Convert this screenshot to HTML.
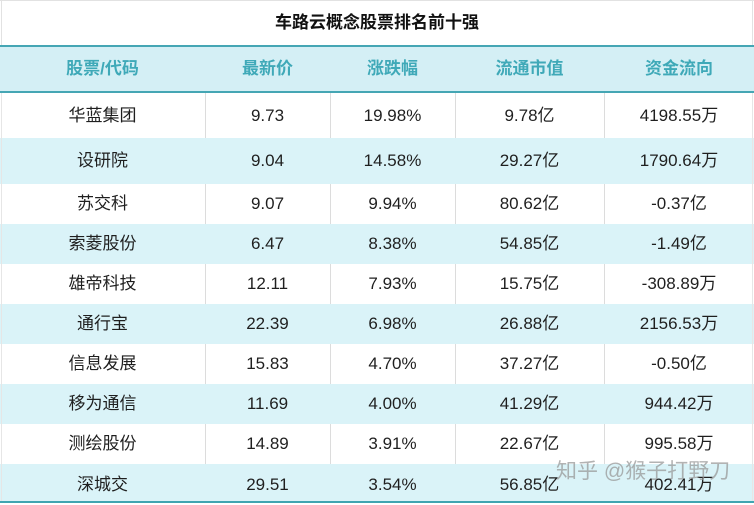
<!DOCTYPE html>
<html><head><meta charset="utf-8">
<style>
*{margin:0;padding:0;box-sizing:border-box}
html,body{width:754px;height:505px;background:#fff;overflow:hidden}
body{position:relative;font-family:"Liberation Sans","Noto Sans CJK SC",sans-serif;color:#1f1f1f}
.abs{position:absolute}
.title{left:0;top:13px;width:754px;height:20px;line-height:20px;text-align:center;font-weight:bold;font-size:17px;color:#111}
.hdr{left:0;top:45px;width:754px;height:48px;background:#d4eff5;border-top:2px solid #45a6b4;border-bottom:2px solid #45a6b4}
.row{left:0;width:754px}
.blue{background:#daf3f8}
.cell{position:absolute;top:0;height:100%;display:flex;align-items:center;justify-content:center;font-size:17px;line-height:20px}
.cell span{display:block;line-height:20px;height:20px;white-space:nowrap}
.h{font-weight:bold;color:#3fa9b8}
.vl{position:absolute;width:1px;background:#dcdcdc}
.wm{left:556px;top:461px;font-size:21px;line-height:22px;color:rgba(150,150,150,0.72);white-space:nowrap}
</style></head><body>
<div class="abs" style="left:0;top:0;width:754px;height:1px;background:#e2e2e2"></div>
<div class="abs" style="left:1px;top:0;width:1px;height:45px;background:#e2e2e2"></div>
<div class="abs" style="left:752px;top:0;width:1px;height:45px;background:#e2e2e2"></div>
<div class="abs title">车路云概念股票排名前十强</div>
<div class="abs hdr">
<div class="cell h" style="left:0;width:205px"><span>股票/代码</span></div>
<div class="cell h" style="left:205px;width:125px"><span>最新价</span></div>
<div class="cell h" style="left:330px;width:125px"><span>涨跌幅</span></div>
<div class="cell h" style="left:455px;width:149px"><span>流通市值</span></div>
<div class="cell h" style="left:604px;width:150px"><span>资金流向</span></div>
</div>

<div class="abs row" style="top:93px;height:45px">
<div class="cell" style="left:0;width:205px"><span>华蓝集团</span></div><div class="cell" style="left:205px;width:125px"><span>9.73</span></div><div class="cell" style="left:330px;width:125px"><span>19.98%</span></div><div class="cell" style="left:455px;width:149px"><span>9.78亿</span></div><div class="cell" style="left:604px;width:150px"><span>4198.55万</span></div></div>
<div class="abs row blue" style="top:138px;height:46px">
<div class="cell" style="left:0;width:205px"><span>设研院</span></div><div class="cell" style="left:205px;width:125px"><span>9.04</span></div><div class="cell" style="left:330px;width:125px"><span>14.58%</span></div><div class="cell" style="left:455px;width:149px"><span>29.27亿</span></div><div class="cell" style="left:604px;width:150px"><span>1790.64万</span></div></div>
<div class="abs row" style="top:184px;height:40px">
<div class="cell" style="left:0;width:205px"><span>苏交科</span></div><div class="cell" style="left:205px;width:125px"><span>9.07</span></div><div class="cell" style="left:330px;width:125px"><span>9.94%</span></div><div class="cell" style="left:455px;width:149px"><span>80.62亿</span></div><div class="cell" style="left:604px;width:150px"><span>-0.37亿</span></div></div>
<div class="abs row blue" style="top:224px;height:40px">
<div class="cell" style="left:0;width:205px"><span>索菱股份</span></div><div class="cell" style="left:205px;width:125px"><span>6.47</span></div><div class="cell" style="left:330px;width:125px"><span>8.38%</span></div><div class="cell" style="left:455px;width:149px"><span>54.85亿</span></div><div class="cell" style="left:604px;width:150px"><span>-1.49亿</span></div></div>
<div class="abs row" style="top:264px;height:40px">
<div class="cell" style="left:0;width:205px"><span>雄帝科技</span></div><div class="cell" style="left:205px;width:125px"><span>12.11</span></div><div class="cell" style="left:330px;width:125px"><span>7.93%</span></div><div class="cell" style="left:455px;width:149px"><span>15.75亿</span></div><div class="cell" style="left:604px;width:150px"><span>-308.89万</span></div></div>
<div class="abs row blue" style="top:304px;height:40px">
<div class="cell" style="left:0;width:205px"><span>通行宝</span></div><div class="cell" style="left:205px;width:125px"><span>22.39</span></div><div class="cell" style="left:330px;width:125px"><span>6.98%</span></div><div class="cell" style="left:455px;width:149px"><span>26.88亿</span></div><div class="cell" style="left:604px;width:150px"><span>2156.53万</span></div></div>
<div class="abs row" style="top:344px;height:40px">
<div class="cell" style="left:0;width:205px"><span>信息发展</span></div><div class="cell" style="left:205px;width:125px"><span>15.83</span></div><div class="cell" style="left:330px;width:125px"><span>4.70%</span></div><div class="cell" style="left:455px;width:149px"><span>37.27亿</span></div><div class="cell" style="left:604px;width:150px"><span>-0.50亿</span></div></div>
<div class="abs row blue" style="top:384px;height:40px">
<div class="cell" style="left:0;width:205px"><span>移为通信</span></div><div class="cell" style="left:205px;width:125px"><span>11.69</span></div><div class="cell" style="left:330px;width:125px"><span>4.00%</span></div><div class="cell" style="left:455px;width:149px"><span>41.29亿</span></div><div class="cell" style="left:604px;width:150px"><span>944.42万</span></div></div>
<div class="abs row" style="top:424px;height:40px">
<div class="cell" style="left:0;width:205px"><span>测绘股份</span></div><div class="cell" style="left:205px;width:125px"><span>14.89</span></div><div class="cell" style="left:330px;width:125px"><span>3.91%</span></div><div class="cell" style="left:455px;width:149px"><span>22.67亿</span></div><div class="cell" style="left:604px;width:150px"><span>995.58万</span></div></div>
<div class="abs row blue" style="top:464px;height:37px">
<div class="cell" style="left:0;width:205px;top:2px"><span>深城交</span></div><div class="cell" style="left:205px;width:125px;top:2px"><span>29.51</span></div><div class="cell" style="left:330px;width:125px;top:2px"><span>3.54%</span></div><div class="cell" style="left:455px;width:149px;top:2px"><span>56.85亿</span></div><div class="cell" style="left:604px;width:150px;top:2px"><span>402.41万</span></div></div>
<div class="abs" style="left:0;top:501px;width:754px;height:2px;background:#3fa5b1"></div>

<div class="vl" style="left:205px;top:93px;height:45px"></div><div class="vl" style="left:330px;top:93px;height:45px"></div><div class="vl" style="left:455px;top:93px;height:45px"></div><div class="vl" style="left:604px;top:93px;height:45px"></div>
<div class="vl" style="left:205px;top:184px;height:40px"></div><div class="vl" style="left:330px;top:184px;height:40px"></div><div class="vl" style="left:455px;top:184px;height:40px"></div><div class="vl" style="left:604px;top:184px;height:40px"></div>
<div class="vl" style="left:205px;top:264px;height:40px"></div><div class="vl" style="left:330px;top:264px;height:40px"></div><div class="vl" style="left:455px;top:264px;height:40px"></div><div class="vl" style="left:604px;top:264px;height:40px"></div>
<div class="vl" style="left:205px;top:344px;height:40px"></div><div class="vl" style="left:330px;top:344px;height:40px"></div><div class="vl" style="left:455px;top:344px;height:40px"></div><div class="vl" style="left:604px;top:344px;height:40px"></div>
<div class="vl" style="left:205px;top:424px;height:40px"></div><div class="vl" style="left:330px;top:424px;height:40px"></div><div class="vl" style="left:455px;top:424px;height:40px"></div><div class="vl" style="left:604px;top:424px;height:40px"></div>
<div class="vl" style="left:1px;top:93px;height:408px;background:#e6e6e6"></div>
<div class="vl" style="left:752px;top:93px;height:408px;background:#e6e6e6"></div>

<div class="abs wm">知乎 @猴子打野刀</div>
</body></html>
